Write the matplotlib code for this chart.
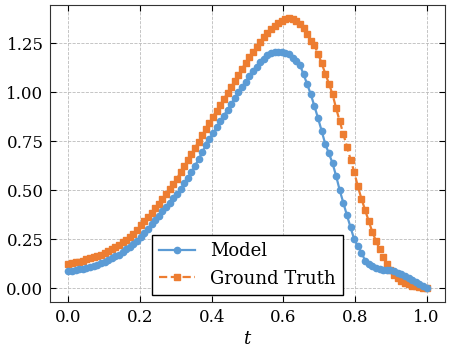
import numpy as np
import matplotlib
matplotlib.use("Agg")
import matplotlib.pyplot as plt

# sample times (100 evenly spaced points on [0, 1])
t = np.linspace(0.0, 1.0, 100)

model = [
    0.088, 0.091, 0.094, 0.097, 0.100, 0.105, 0.110, 0.116, 0.122, 0.128,
    0.135, 0.144, 0.153, 0.163, 0.173, 0.185, 0.199, 0.213, 0.228, 0.244,
    0.262, 0.283, 0.305, 0.327, 0.349, 0.371, 0.393, 0.415, 0.437, 0.459,
    0.481, 0.506, 0.535, 0.564, 0.593, 0.624, 0.659, 0.694, 0.729, 0.762,
    0.791, 0.821, 0.851, 0.881, 0.911, 0.940, 0.970, 1.000, 1.027, 1.054,
    1.081, 1.106, 1.131, 1.152, 1.171, 1.189, 1.199, 1.205, 1.206, 1.203,
    1.199, 1.194, 1.176, 1.158, 1.139, 1.091, 1.041, 0.989, 0.929, 0.868,
    0.803, 0.736, 0.688, 0.639, 0.573, 0.500, 0.436, 0.372, 0.311, 0.250,
    0.217, 0.183, 0.142, 0.124, 0.112, 0.102, 0.098, 0.095, 0.094, 0.092,
    0.088, 0.081, 0.073, 0.063, 0.053, 0.043, 0.033, 0.021, 0.010, 0.000,
]

ground_truth = [
    0.125, 0.129, 0.133, 0.137, 0.141, 0.148, 0.153, 0.159, 0.165, 0.172,
    0.180, 0.190, 0.200, 0.211, 0.222, 0.235, 0.249, 0.264, 0.280, 0.300,
    0.322, 0.343, 0.364, 0.386, 0.408, 0.431, 0.456, 0.481, 0.507, 0.533,
    0.560, 0.591, 0.622, 0.653, 0.684, 0.716, 0.748, 0.780, 0.812, 0.844,
    0.876, 0.906, 0.936, 0.966, 0.996, 1.026, 1.057, 1.088, 1.119, 1.150,
    1.180, 1.206, 1.231, 1.256, 1.281, 1.303, 1.322, 1.339, 1.353, 1.364,
    1.372, 1.376, 1.372, 1.362, 1.347, 1.325, 1.297, 1.263, 1.239, 1.197,
    1.148, 1.095, 1.044, 0.990, 0.918, 0.852, 0.787, 0.722, 0.657, 0.593,
    0.520, 0.457, 0.400, 0.344, 0.288, 0.243, 0.200, 0.162, 0.124, 0.094,
    0.070, 0.052, 0.039, 0.029, 0.021, 0.015, 0.010, 0.006, 0.003, 0.000,
]

BLUE = "#5b9bd5"
ORANGE = "#ed7d31"

plt.rcParams["font.family"] = "DejaVu Serif"
plt.rcParams["mathtext.fontset"] = "dejavuserif"
plt.rcParams["font.size"] = 12

fig = plt.figure(figsize=(4.49, 3.54), dpi=100, facecolor="white")
ax = fig.add_axes([0.1123, 0.147, 0.8777, 0.839])

ax.plot(t, model, "-", color=BLUE, lw=1.6, marker="o", ms=4.5,
        label="Model", zorder=3)
ax.plot(t, ground_truth, "--", color=ORANGE, lw=1.6, marker="s", ms=4.5,
        label="Ground Truth", zorder=2)

ax.set_xticks([0.0, 0.2, 0.4, 0.6, 0.8, 1.0])
ax.set_yticks([0.0, 0.25, 0.5, 0.75, 1.0, 1.25])
ax.set_xlabel("$t$", fontsize=13, labelpad=3)
ax.tick_params(direction="in", top=True, right=True, length=4.5, width=0.8,
               labelsize=12, pad=5)
ax.grid(True, linestyle="--", color="#bbbbbb", lw=0.6)
for s in ax.spines.values():
    s.set_color("#333333")

leg = ax.legend(loc="lower center", fontsize=13, fancybox=False,
                edgecolor="black", framealpha=1.0, borderaxespad=0.4)
leg.get_frame().set_linewidth(1.0)

fig.savefig("out.png", dpi=100, facecolor="white")
